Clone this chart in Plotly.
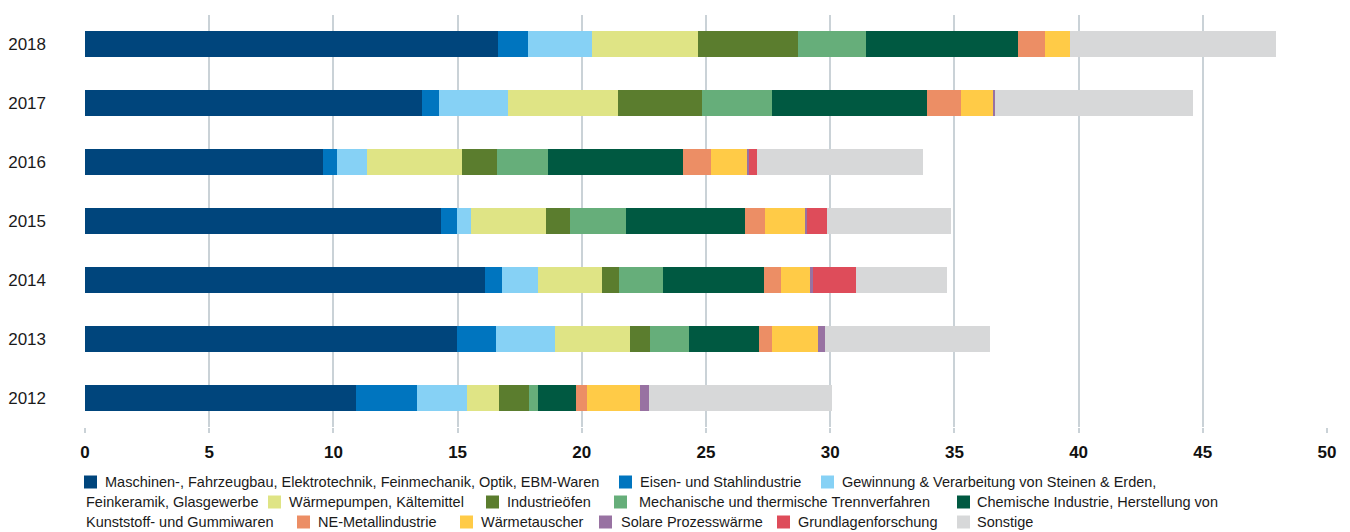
import plotly.graph_objects as go

years = ["2012", "2013", "2014", "2015", "2016", "2017", "2018"]

series_names = [
    "Maschinen-, Fahrzeugbau, Elektrotechnik, Feinmechanik, Optik, EBM-Waren",
    "Eisen- und Stahlindustrie",
    "Gewinnung & Verarbeitung von Steinen & Erden, Feinkeramik, Glasgewerbe",
    "Wärmepumpen, Kältemittel",
    "Industrieöfen",
    "Mechanische und thermische Trennverfahren",
    "Chemische Industrie, Herstellung von Kunststoff- und Gummiwaren",
    "NE-Metallindustrie",
    "Wärmetauscher",
    "Solare Prozesswärme",
    "Grundlagenforschung",
    "Sonstige",
]

# values per series, ordered 2012 .. 2018
maschinen      = [10.91, 14.97, 16.10, 14.33, 9.59, 13.57, 16.62]
eisen          = [2.45, 1.57, 0.68, 0.64, 0.55, 0.68, 1.21]
gewinnung      = [2.02, 2.38, 1.45, 0.57, 1.21, 2.77, 2.58]
waermepumpen   = [1.29, 3.02, 2.58, 3.03, 3.83, 4.44, 4.27]
industrieoefen = [1.21, 0.81, 0.69, 0.95, 1.41, 3.38, 4.03]
mechanische    = [0.35, 1.56, 1.77, 2.26, 2.06, 2.82, 2.74]
chemische      = [1.53, 2.84, 4.07, 4.80, 5.43, 6.24, 6.13]
ne_metall      = [0.45, 0.51, 0.69, 0.81, 1.13, 1.37, 1.08]
waermetauscher = [2.13, 1.86, 1.16, 1.61, 1.45, 1.29, 1.01]
solar          = [0.38, 0.27, 0.10, 0.06, 0.06, 0.08, 0.00]
grundlagen     = [0.00, 0.00, 1.76, 0.81, 0.33, 0.00, 0.00]
sonstige       = [7.36, 6.66, 3.66, 5.00, 6.69, 7.98, 8.29]

series_values = [maschinen, eisen, gewinnung, waermepumpen, industrieoefen,
                 mechanische, chemische, ne_metall, waermetauscher, solar,
                 grundlagen, sonstige]

colors = ["#00457C", "#0075BF", "#86D1F5", "#DFE485", "#5B7D2E", "#66AE7A",
          "#005941", "#EC8E65", "#FFCB47", "#9872A2", "#DE4C5A", "#D7D8D9"]

x_ticks = [0, 5, 10, 15, 20, 25, 30, 35, 40, 45, 50]

# the page body has an 8px margin, so the figure is sized/offset accordingly
OFF = 8
W, H = 1350 - OFF, 532 - OFF
ML, MR, MT, MB = 85 - OFF, 23, 15 - OFF, 105
PW = W - ML - MR
PH = H - MT - MB

fig = go.Figure()
for name, vals, col in zip(series_names, series_values, colors):
    fig.add_trace(go.Bar(
        y=years, x=vals, name=name, orientation="h",
        marker=dict(color=col, line=dict(width=0)),
        showlegend=False,
    ))

FONT = "Liberation Sans"

fig.update_layout(
    width=W, height=H,
    margin=dict(l=ML, r=MR, t=MT, b=MB, pad=0, autoexpand=False),
    barmode="stack",
    bargap=0.56,
    plot_bgcolor="white",
    paper_bgcolor="white",
    font=dict(family=FONT, color="#1a1a1a"),
    xaxis=dict(
        range=[0, 50], tickvals=x_ticks, ticktext=[str(t) for t in x_ticks],
        showgrid=True, gridcolor="#CAD2D7", gridwidth=2,
        zeroline=False, showline=False,
        ticks="outside", ticklen=5, tickwidth=2, tickcolor="#CAD2D7",
        ticklabelstandoff=5, automargin=False,
        tickfont=dict(family=FONT, size=17, color="#111111", weight="bold"),
        fixedrange=True,
    ),
    yaxis=dict(
        categoryorder="array", categoryarray=years,
        showgrid=False, zeroline=False, showline=False,
        ticks="", ticklabelstandoff=38, automargin=False,
        tickfont=dict(family=FONT, size=17, color="#1a1a1a"),
        fixedrange=True,
    ),
)

def px_x(p):
    # p is a page pixel position
    return (p - OFF - ML) / PW

def px_y(p):
    return (H - MB - (p - OFF)) / PH

# legend laid out as flowing text (as in the reference)
legend_items = [
    # (square colour index or None, square left px, text, text left px, row center y px)
    (0, 84, "Maschinen-, Fahrzeugbau, Elektrotechnik, Feinmechanik, Optik, EBM-Waren", 103, 482),
    (1, 619, "Eisen- und Stahlindustrie", 638, 482),
    (2, 821, "Gewinnung & Verarbeitung von Steinen & Erden,", 840, 482),
    (None, None, "Feinkeramik, Glasgewerbe", 84, 502),
    (3, 268, "Wärmepumpen, Kältemittel", 287, 502),
    (4, 486, "Industrieöfen", 505, 502),
    (5, 614, " Mechanische und thermische Trennverfahren", 633, 502),
    (6, 957, "Chemische Industrie, Herstellung von", 975, 502),
    (None, None, "Kunststoff- und Gummiwaren", 84, 522),
    (7, 297, "NE-Metallindustrie", 316, 522),
    (8, 460, "Wärmetauscher", 479, 522),
    (9, 599, "Solare Prozesswärme", 619, 522),
    (10, 777, "Grundlagenforschung", 796, 522),
    (11, 957, "Sonstige", 975, 522),
]

for ci, sx, text, tx, cy in legend_items:
    if ci is not None:
        fig.add_shape(type="rect", xref="paper", yref="paper",
                      x0=px_x(sx), x1=px_x(sx + 13),
                      y0=px_y(cy + 6.5), y1=px_y(cy - 6.5),
                      fillcolor=colors[ci], line=dict(width=0), layer="above")
    fig.add_annotation(text=text, xref="paper", yref="paper",
                       x=px_x(tx), y=px_y(cy), xanchor="left", yanchor="middle",
                       showarrow=False, align="left",
                       font=dict(family=FONT, size=14.5, color="#1a1a1a"))

fig.write_html("out.html")
